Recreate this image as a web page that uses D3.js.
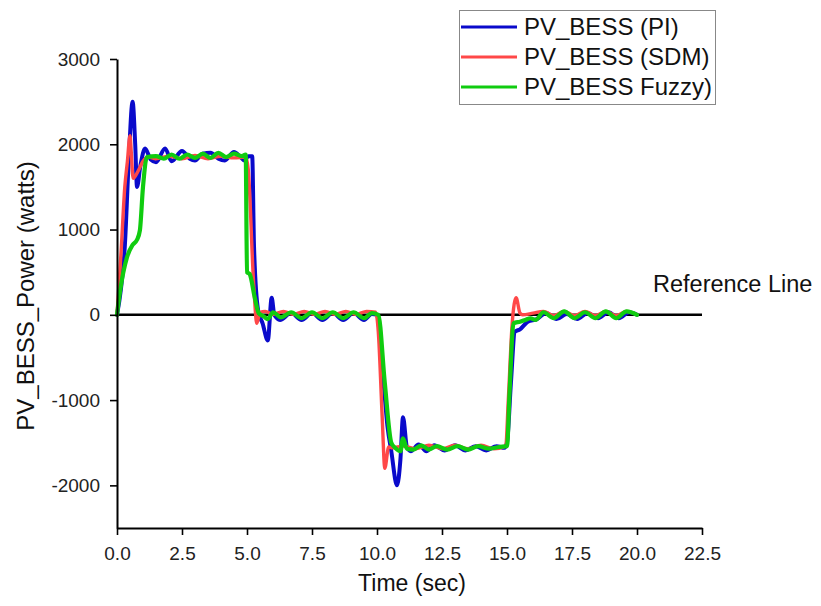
<!DOCTYPE html>
<html>
<head>
<meta charset="utf-8">
<script src="https://cdn.jsdelivr.net/npm/d3@7"></script>
<style>
  html, body { margin: 0; padding: 0; background: #fff; }
  svg { display: block; font-family: "Liberation Sans", Arial, Helvetica, sans-serif; }
</style>
</head>
<body>
<svg id="chart" width="821" height="606"></svg>
<script>
// ---------- Data ----------
const seriesNames = ["PV_BESS (PI)", "PV_BESS (SDM)", "PV_BESS Fuzzy)"];
const xTicks = [0, 2.5, 5, 7.5, 10, 12.5, 15, 17.5, 20, 22.5];
const xTickLabels = ["0.0", "2.5", "5.0", "7.5", "10.0", "12.5", "15.0", "17.5", "20.0", "22.5"];
const yTicks = [-2000, -1000, 0, 1000, 2000, 3000];
const yTickLabels = ["-2000", "-1000", "0", "1000", "2000", "3000"];
const referenceValue = 0;

const timePI = [0, 0.15, 0.3, 0.45, 0.6, 0.7, 0.77, 0.9, 1.08, 1.3, 1.5, 1.85, 2.1, 2.5, 2.8, 3.0, 3.3, 3.6, 3.9, 4.15, 4.5, 4.75, 4.9, 5.05, 5.2, 5.27, 5.43, 5.6, 5.8, 5.95, 6.05, 6.27, 6.7, 7.1, 7.5, 7.9, 8.3, 8.7, 9.1, 9.5, 9.8, 10.0, 10.2, 10.4, 10.55, 10.77, 10.9, 11.0, 11.15, 11.3, 11.6, 11.9, 12.2, 12.6, 13.0, 13.4, 13.8, 14.2, 14.6, 14.9, 15.0, 15.15, 15.3, 15.5, 15.8, 16.15, 16.5, 16.9, 17.3, 17.7, 18.1, 18.5, 18.9, 19.3, 19.7, 20.0];
const valuesPI = [0, 300, 800, 1800, 2500, 2000, 1500, 1750, 1950, 1820, 1790, 1950, 1800, 1920, 1830, 1810, 1890, 1900, 1830, 1810, 1910, 1850, 1810, 1860, 1860, 800, 50, -100, -300, 200, 0, -60, 20, -60, 20, -60, 20, -60, 20, -60, 10, 0, -600, -1300, -1600, -2000, -1700, -1200, -1550, -1600, -1520, -1600, -1530, -1590, -1530, -1590, -1540, -1590, -1540, -1560, -1500, -800, -200, -170, -80, -50, 20, -50, 10, -50, 20, -40, 30, -40, 30, 0];

const timeSDM = [0, 0.15, 0.3, 0.4, 0.5, 0.55, 0.62, 0.8, 1.0, 1.2, 1.5, 2.0, 2.5, 3.0, 3.5, 4.0, 4.5, 4.95, 5.05, 5.25, 5.38, 5.5, 5.7, 6.0, 6.4, 6.8, 7.2, 7.6, 8.0, 8.4, 8.8, 9.2, 9.6, 9.95, 10.05, 10.2, 10.3, 10.45, 10.6, 11.0, 11.5, 12.0, 12.5, 13.0, 13.5, 14.0, 14.5, 14.95, 15.05, 15.2, 15.35, 15.5, 15.6, 16.0, 16.4, 16.8, 17.2, 17.6, 18.0, 18.4, 18.8, 19.2, 19.6, 20.0];
const valuesSDM = [0, 700, 1500, 1800, 2100, 1900, 1600, 1680, 1800, 1850, 1830, 1860, 1830, 1870, 1830, 1860, 1840, 1850, 1700, 400, -100, 30, 40, 5, 40, 5, 40, 5, 40, 5, 40, 5, 40, 30, -200, -1200, -1800, -1550, -1560, -1540, -1570, -1530, -1570, -1530, -1570, -1530, -1570, -1540, -1000, -100, 200, 20, 0, 20, 40, -10, 40, -10, 40, -10, 40, -10, 40, 0];

const timeFuzzy = [0, 0.12, 0.38, 0.6, 0.77, 0.88, 1.0, 1.15, 1.5, 1.8, 2.1, 2.4, 2.7, 3.0, 3.3, 3.6, 3.9, 4.2, 4.5, 4.8, 4.95, 5.0, 5.1, 5.3, 5.45, 5.65, 5.8, 6.0, 6.3, 6.7, 7.1, 7.5, 7.9, 8.3, 8.7, 9.1, 9.5, 9.8, 10.05, 10.3, 10.55, 10.7, 10.9, 11.0, 11.15, 11.4, 11.7, 12.0, 12.3, 12.7, 13.1, 13.5, 13.9, 14.3, 14.7, 15.0, 15.1, 15.25, 15.5, 15.7, 15.9, 16.1, 16.4, 16.8, 17.2, 17.6, 18.0, 18.4, 18.8, 19.2, 19.6, 20.0];
const valuesFuzzy = [0, 280, 670, 820, 880, 990, 1500, 1850, 1860, 1830, 1880, 1830, 1880, 1840, 1890, 1840, 1900, 1850, 1890, 1860, 1880, 500, 480, 200, 20, -20, -50, 30, -30, 30, -40, 30, -40, 30, -40, 30, -40, 20, 0, -800, -1500, -1560, -1600, -1450, -1570, -1580, -1530, -1580, -1540, -1580, -1540, -1580, -1540, -1570, -1550, -1540, -900, -100, -80, -60, -40, -60, 30, -40, 40, -40, 30, -40, 40, -40, 40, 0];

const seriesColors = ["#0a0acb", "#ff4848", "#10cc10"];

// ---------- Layout ----------
const svg = d3.select("#chart");
const plot = { left: 117, top: 59, right: 702, bottom: 528 };

const x = d3.scaleLinear().domain([0, 22.5]).range([plot.left, plot.right]);
const y = d3.scaleLinear().domain([-2500, 3000]).range([plot.bottom, plot.top]);

const series = [
  { name: seriesNames[0], t: timePI, v: valuesPI, color: seriesColors[0], w: 4 },
  { name: seriesNames[1], t: timeSDM, v: valuesSDM, color: seriesColors[1], w: 3.4 },
  { name: seriesNames[2], t: timeFuzzy, v: valuesFuzzy, color: seriesColors[2], w: 4.2 }
];

// Reference line
svg.append("line")
  .attr("x1", x(0)).attr("x2", x(22.5))
  .attr("y1", y(referenceValue)).attr("y2", y(referenceValue))
  .attr("stroke", "#000").attr("stroke-width", 2.5);

svg.append("text")
  .attr("x", 653).attr("y", 292)
  .attr("font-size", 23.5).attr("fill", "#111")
  .text("Reference Line");

// Series lines
const line = d3.line().x(d => x(d[0])).y(d => y(d[1])).curve(d3.curveMonotoneX);
series.forEach(s => {
  const pts = s.t.map((t, i) => [t, s.v[i]]);
  svg.append("path")
    .datum(pts)
    .attr("d", line)
    .attr("fill", "none")
    .attr("stroke", s.color)
    .attr("stroke-width", s.w)
    .attr("stroke-linejoin", "round")
    .attr("stroke-linecap", "round");
});

// ---------- Axes ----------
const xMinor = d3.range(0, 23, 1.25).filter(v => v % 2.5 !== 0);
const yMinor = d3.range(-2500, 3001, 500).filter(v => v % 1000 !== 0);

const gx = svg.append("g").attr("transform", `translate(0,${plot.bottom})`);
gx.call(d3.axisBottom(x).tickValues(xMinor).tickSize(4).tickFormat(""));
gx.call(d3.axisBottom(x).tickValues(xTicks).tickSize(7).tickSizeOuter(0).tickPadding(12)
  .tickFormat((d, i) => xTickLabels[i]));

const gy = svg.append("g").attr("transform", `translate(${plot.left},0)`);
gy.call(d3.axisLeft(y).tickValues(yMinor).tickSize(4).tickFormat(""));
gy.call(d3.axisLeft(y).tickValues(yTicks).tickSize(7).tickSizeOuter(0).tickPadding(10)
  .tickFormat((d, i) => yTickLabels[i]));

[gx, gy].forEach(g => {
  g.selectAll(".domain").attr("stroke", "#000").attr("stroke-width", 2);
  g.selectAll(".tick line").attr("stroke", "#000").attr("stroke-width", 1.6);
  g.selectAll(".tick text").attr("font-size", 19).attr("fill", "#222")
    .attr("font-family", "'Liberation Sans', Arial, sans-serif");
});

// Axis titles
svg.append("text")
  .attr("x", 412).attr("y", 591)
  .attr("text-anchor", "middle")
  .attr("font-size", 23).attr("fill", "#111")
  .text("Time (sec)");

svg.append("text")
  .attr("transform", "translate(34,296) rotate(-90)")
  .attr("text-anchor", "middle")
  .attr("font-size", 24).attr("fill", "#111")
  .text("PV_BESS_Power (watts)");

// ---------- Legend ----------
const legend = svg.append("g");
legend.append("rect")
  .attr("x", 459.5).attr("y", 10.5).attr("width", 256).attr("height", 94)
  .attr("fill", "#fff").attr("stroke", "#888").attr("stroke-width", 1);
series.forEach((s, i) => {
  const ly = 27 + i * 30;
  legend.append("line")
    .attr("x1", 461).attr("x2", 517)
    .attr("y1", ly).attr("y2", ly)
    .attr("stroke", s.color).attr("stroke-width", 3.2);
  legend.append("text")
    .attr("x", 524).attr("y", ly + 8)
    .attr("font-size", 24).attr("fill", "#111")
    .text(s.name);
});
</script>
</body>
</html>
